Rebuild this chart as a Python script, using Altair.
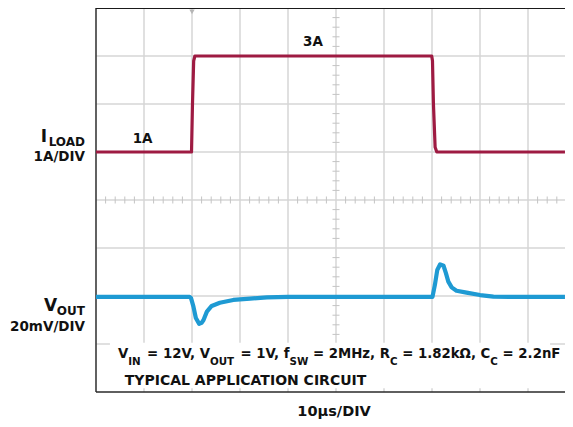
import altair as alt
import pandas as pd

# ---------------- data ----------------
# time base: 10 us/DIV
load_time_us = [0.0, 19.9, 20.1, 20.35, 20.6, 69.94, 70.1, 70.3, 70.65, 71.0, 97.7]
load_amps = [1.0, 1.0, 2.0, 2.9, 3.0, 3.0, 2.9, 2.0, 1.1, 1.0, 1.0]   # 1A/DIV

vout_time_us = [0.0, 19.5, 19.8, 20.3, 20.8, 21.5, 22.0, 22.4, 23.1, 24.1, 25.8, 28.6,
                32.1, 35.6, 40.0, 69.9, 70.1, 70.6, 71.1, 71.7, 72.4, 72.9, 73.4, 74.1,
                75.1, 77.2, 80.0, 82.8, 86.0, 97.7]
vout_dev_mv = [0, 0, -0.5, -4.0, -8.75, -11.2, -10.8, -9.6, -6.1, -3.75, -2.4, -1.25,
               -0.7, -0.2, 0, 0, 0, 5.0, 11.25, 13.6, 13.0, 9.9, 6.4, 4.0,
               2.6, 1.8, 0.8, 0.15, 0, 0]                                   # 20mV/DIV
VOUT_TRACE_OFFSET_DIV = -2.02
MV_PER_DIV = 20.0
A_PER_DIV = 1.0

major_t = [10, 20, 30, 40, 50, 60, 70, 80, 90]
major_d = [-3, -2, -1, 0, 1, 2, 3]
minor_d = [k * 0.2 for k in range(-20, 21) if k % 5 != 0]
minor_t = [k * 2.0 for k in range(1, 49) if k % 5 != 0]

PLOT_W = 469
X_MAX = PLOT_W / 4.8
xs = alt.Scale(domain=[0, X_MAX], nice=False, zero=False)
ys = alt.Scale(domain=[-4, 4], nice=False, zero=False)

FONT = "DejaVu Sans"
RED = "#9E1B42"
BLUE = "#1E9AD3"
GRID = "#d6d6d6"
TICK_T = 0.73   # half tick length in us
TICK_D = 0.073  # half tick length in div


def seg_chart(rows, color, width):
    df = pd.DataFrame(rows, columns=["t", "t2", "d", "d2"])
    return alt.Chart(df).mark_rule(color=color, strokeWidth=width).encode(
        x=alt.X("t:Q", scale=xs, axis=None), x2="t2:Q",
        y=alt.Y("d:Q", scale=ys, axis=None), y2="d2:Q")


vgrid = seg_chart([(t, t, -4, 4) for t in major_t], GRID, 1.5)
hgrid = seg_chart([(0, X_MAX, d, d) for d in major_d], GRID, 1.5)
vticks = seg_chart([(50 - TICK_T, 50 + TICK_T, d, d) for d in minor_d], "#c4c4c4", 1)
hticks = seg_chart([(t, t, -TICK_D, TICK_D) for t in minor_t], "#c4c4c4", 1)

textbox = alt.Chart(pd.DataFrame({"t": [2.9], "t2": [94.6], "d": [-2.975], "d2": [-3.92]})).mark_rect(
    color="white").encode(x=alt.X("t:Q", scale=xs, axis=None), x2="t2:Q",
                          y=alt.Y("d:Q", scale=ys, axis=None), y2="d2:Q")

left_border = seg_chart([(0, 0, -4, 4)], "#3a3a3a", 1.6)
top_border = seg_chart([(0, X_MAX, 4, 4)], "#1a1a1a", 2.2)
bottom_border = seg_chart([(0, X_MAX, -4, -4)], "#2a2a2a", 1.6)
trigger = alt.Chart(pd.DataFrame({"t": [20], "d": [3.92]})).mark_point(
    shape="triangle-down", filled=True, size=28, color="#b5b5b5", opacity=1).encode(
    x=alt.X("t:Q", scale=xs, axis=None), y=alt.Y("d:Q", scale=ys, axis=None))

load_line = alt.Chart(pd.DataFrame({"t": load_time_us, "amps": load_amps})).transform_calculate(
    d=f"datum.amps / {A_PER_DIV}").mark_line(color=RED, strokeWidth=3.2, strokeJoin="round").encode(
    x=alt.X("t:Q", scale=xs, axis=None), y=alt.Y("d:Q", scale=ys, axis=None), order="t:Q")
vout_line = alt.Chart(pd.DataFrame({"t": vout_time_us, "mv": vout_dev_mv})).transform_calculate(
    d=f"{VOUT_TRACE_OFFSET_DIV} + datum.mv / {MV_PER_DIV}").mark_line(
    color=BLUE, strokeWidth=4.2, strokeJoin="round").encode(
    x=alt.X("t:Q", scale=xs, axis=None), y=alt.Y("d:Q", scale=ys, axis=None), order="t:Q")

# ---------------- text annotations (position in time/div units) ----------------
MAIN_Y = -3.302
SUB_Y = -3.4375
MAIN_FS = 13.3
SUB_FS = 10.3
right_texts = [
    ("LOAD", -2.29, 1.135, 12), ("I", -10.2, 1.208, 17), ("1A/DIV", -2.29, 0.8125, 13.5),
    ("OUT", -2.29, -2.396, 12), ("V", -8.1, -2.3125, 17), ("20mV/DIV", -2.29, -2.729, 13.5),
    ("V", 6.727, MAIN_Y, MAIN_FS), ("= 12V, V", 23.74, MAIN_Y, MAIN_FS),
    ("= 1V, f", 40.31, MAIN_Y, MAIN_FS), ("= 2MHz, R", 61.24, MAIN_Y, MAIN_FS),
    ("= 1.82kΩ, C", 82.16, MAIN_Y, MAIN_FS),
]
left_texts = [
    ("IN", 6.727, SUB_Y, SUB_FS), ("OUT", 23.74, SUB_Y, SUB_FS), ("SW", 40.31, SUB_Y, SUB_FS),
    ("C", 61.24, SUB_Y, SUB_FS), ("C", 82.16, SUB_Y, SUB_FS), ("= 2.2nF", 84.70, MAIN_Y, MAIN_FS),
    ("TYPICAL APPLICATION CIRCUIT", 6.0, -3.854, 14),
]
center_texts = [
    ("3A", 45.2, 3.208, 13.5), ("1A", 9.7, 1.1875, 13.5), ("10µs/DIV", 49.6, -4.5, 14.5),
]


def text_layer(rows, align):
    df = pd.DataFrame(rows, columns=["label", "t", "d", "fs"])
    return alt.Chart(df).mark_text(align=align, baseline="alphabetic", font=FONT,
                                   fontWeight="bold", color="#111111").encode(
        x=alt.X("t:Q", scale=xs, axis=None), y=alt.Y("d:Q", scale=ys, axis=None),
        text="label:N", size=alt.Size("fs:Q", scale=None, legend=None))


chart = alt.layer(
    vgrid, hgrid, vticks, hticks, textbox, left_border, top_border, bottom_border, trigger,
    load_line, vout_line,
    text_layer(right_texts, "right"), text_layer(left_texts, "left"), text_layer(center_texts, "center"),
).properties(
    width=PLOT_W, height=384,
    padding={"left": 88, "top": 0, "right": 0, "bottom": 27},
    autosize=alt.AutoSizeParams(type="none"),
).configure_view(strokeWidth=0)

chart.save("out.html", embed_options={"renderer": "svg", "actions": False})
